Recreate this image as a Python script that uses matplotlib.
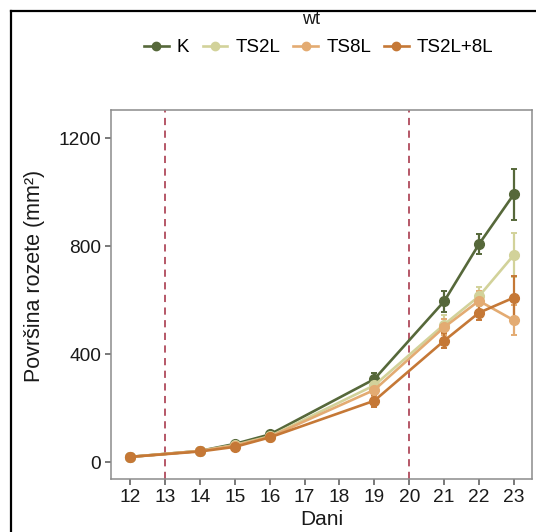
import matplotlib
matplotlib.use("Agg")
import matplotlib.pyplot as plt
from matplotlib.lines import Line2D

plt.rcParams['font.family'] = ['Liberation Sans', 'DejaVu Sans']

days = [12, 14, 15, 16, 19, 21, 22, 23]
series_names = ["K", "TS2L", "TS8L", "TS2L+8L"]
k_vals = [20, 42, 68, 103, 308, 596, 808, 993]
k_err = [4, 5, 7, 9, 22, 38, 37, 95]
ts2l_vals = [20, 42, 64, 96, 285, 510, 615, 768]
ts2l_err = [4, 5, 7, 9, 22, 35, 35, 80]
ts8l_vals = [20, 42, 62, 94, 268, 500, 598, 526]
ts8l_err = [4, 5, 7, 9, 22, 30, 35, 55]
ts28_vals = [20, 40, 57, 92, 228, 450, 554, 610]
ts28_err = [4, 5, 7, 9, 22, 28, 28, 80]
colors = ["#56683a", "#d2d29a", "#e3ab72", "#c57836"]
xticks = list(range(12, 24))
yticks = [0, 400, 800, 1200]
vlines = [13, 20]

all_vals = [k_vals, ts2l_vals, ts8l_vals, ts28_vals]
all_err = [k_err, ts2l_err, ts8l_err, ts28_err]

fig = plt.figure(figsize=(5.36, 5.32), dpi=100)
ax = fig.add_axes([0.2071, 0.0996, 0.7854, 0.6936])

for v in vlines:
    ax.axvline(v, color="#b04a5c", lw=1.3, ls=(0, (4, 3)), zorder=1)

for vals, err, c in zip(all_vals, all_err, colors):
    ax.errorbar(days, vals, yerr=err, color=c, lw=1.9, marker='o', ms=7,
                elinewidth=1.6, capsize=2.5, capthick=1.4, zorder=3)

ax.set_xlim(11.45, 23.52)
ax.set_ylim(-62, 1305)
ax.set_xticks(xticks)
ax.set_yticks(yticks)
for s in ax.spines.values():
    s.set_color("#8c8c8c")
    s.set_linewidth(1.1)
ax.tick_params(colors="#555555", labelcolor="#1a1a1a", labelsize=13.8, length=4, width=1.1, pad=3)
ax.set_xlabel("Dani", fontsize=15, color="#1a1a1a")
ax.xaxis.set_label_coords(0.5, -0.083)
ax.set_ylabel("Površina rozete (mm²)", fontsize=15.5, color="#1a1a1a")
ax.yaxis.set_label_coords(-0.157, 0.55)

fig.text(0.58, 0.963, "wt", ha="center", va="center", fontsize=13, color="#1a1a1a")

handles = [Line2D([0], [0], color=c, lw=1.9, marker='o', ms=6) for c in colors]
fig.legend(handles, series_names, loc="center", bbox_to_anchor=(0.595, 0.91), ncol=4,
           frameon=False, fontsize=13.5, handlelength=1.3, handletextpad=0.45,
           columnspacing=0.7, borderpad=0)

# outer black border (top and left)
fig.add_artist(Line2D([11/536, 1], [1-11/532, 1-11/532], color="black", lw=1.6,
                      transform=fig.transFigure))
fig.add_artist(Line2D([11/536, 11/536], [0, 1-11/532], color="black", lw=1.6,
                      transform=fig.transFigure))

fig.savefig("out.png", dpi=100)
